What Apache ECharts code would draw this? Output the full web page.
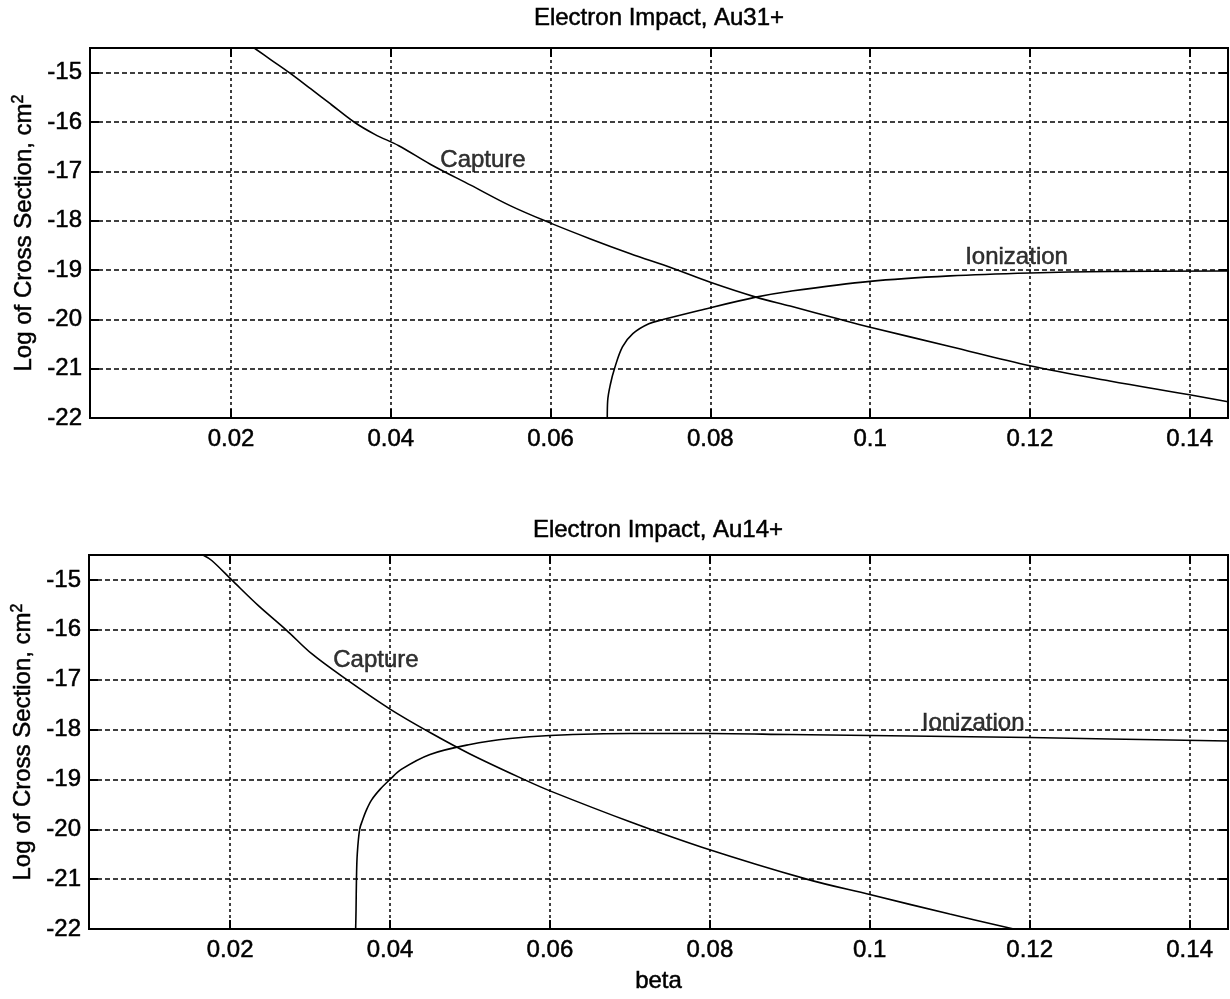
<!DOCTYPE html>
<html>
<head>
<meta charset="utf-8">
<script src="https://cdn.jsdelivr.net/npm/echarts@6/dist/echarts.min.js"></script>
<style>
  html, body { margin: 0; padding: 0; background: #fff; }
  #chart { width: 1230px; height: 999px; }
</style>
</head>
<body>
<div id="chart"></div>
<script>
// beta tick values, shared by both panels
var betaTicks = [0.02, 0.04, 0.06, 0.08, 0.1, 0.12, 0.14];

// Au31+ : [beta, log10 cross section]
var captureAu31 = [
    [0.0229, -14.5], [0.025, -14.74], [0.0273, -15.0], [0.03, -15.33], [0.0325, -15.64],
    [0.0354, -16.0], [0.038, -16.25], [0.041, -16.48], [0.045, -16.86], [0.05, -17.28],
    [0.055, -17.7], [0.06, -18.05], [0.065, -18.37], [0.07, -18.67], [0.0752, -18.96],
    [0.08, -19.25], [0.0857, -19.55], [0.09, -19.73], [0.0962, -20.0], [0.1, -20.16],
    [0.11, -20.55], [0.12, -20.94], [0.13, -21.25], [0.14, -21.53], [0.1448, -21.67]
];
var ionizationAu31 = [
    [0.0671, -22.0], [0.06715, -21.65], [0.0675, -21.31], [0.068, -21.0], [0.069, -20.56],
    [0.0703, -20.29], [0.0723, -20.09], [0.0742, -20.0], [0.0786, -19.82], [0.0857, -19.55],
    [0.09, -19.43], [0.1, -19.23], [0.11, -19.12], [0.12, -19.06], [0.13, -19.03],
    [0.1448, -19.02]
];

// Au14+
var captureAu14 = [
    [0.0166, -14.5], [0.0177, -14.61], [0.0202, -15.0], [0.0235, -15.51], [0.027, -16.0],
    [0.0302, -16.48], [0.0345, -16.99], [0.04, -17.59], [0.045, -18.06], [0.05, -18.49],
    [0.057, -19.02], [0.06, -19.23], [0.07, -19.85], [0.079, -20.36], [0.0921, -21.0],
    [0.1, -21.31], [0.11, -21.7], [0.118, -22.0]
];
var ionizationAu14 = [
    [0.0357, -22.0], [0.03575, -21.6], [0.0358, -21.0], [0.0359, -20.5], [0.0362, -20.0],
    [0.0366, -19.8], [0.037, -19.63], [0.0377, -19.41], [0.0388, -19.19], [0.04, -19.0],
    [0.0414, -18.8], [0.045, -18.5], [0.05, -18.3], [0.055, -18.18], [0.06, -18.12],
    [0.07, -18.08], [0.08, -18.08], [0.09, -18.1], [0.1, -18.12], [0.11, -18.14],
    [0.12, -18.16], [0.13, -18.19], [0.1448, -18.23]
];

// curve labels: [text, beta, log]
var labelsAu31 = [['Capture', 0.0462, -17.02], ['Ionization', 0.1119, -18.98]];
var labelsAu14 = [['Capture', 0.0329, -16.85], ['Ionization', 0.1065, -18.12]];

var titles = ['Electron Impact, Au31+', 'Electron Impact, Au14+'];

var FONT = '"Liberation Sans", Arial, sans-serif';
var BETA_MIN = 0.00235, BETA_MAX = 0.1448;
var LOG_MIN = -22, LOG_MAX = -14.5;

// heavier text, close to the scanned look
var ink = { color: '#000', textBorderColor: '#000', textBorderWidth: 0.5 };

var chart = echarts.init(document.getElementById('chart'));

var grids = [
    { left: 90, top: 48, width: 1138, height: 370 },
    { left: 89, top: 555, width: 1139, height: 374 }
];

function xAxes(gi, withName) {
    return [{
        type: 'value', gridIndex: gi, min: BETA_MIN, max: BETA_MAX,
        name: withName ? 'beta' : '', nameLocation: 'middle', nameGap: 40,
        nameTextStyle: Object.assign({ fontFamily: FONT, fontSize: 24 }, ink),
        axisLine: { show: false },
        axisTick: { inside: true, length: 9, customValues: betaTicks, lineStyle: { color: '#000', width: 2 } },
        axisLabel: Object.assign({ customValues: betaTicks, margin: 9, fontFamily: FONT, fontSize: 24 }, ink),
        splitLine: { show: true, lineStyle: { color: '#000', width: 1.5, type: [3, 3] } }
    }, {
        type: 'value', gridIndex: gi, position: 'top', min: BETA_MIN, max: BETA_MAX,
        axisLine: { show: false },
        axisTick: { inside: true, length: 9, customValues: betaTicks, lineStyle: { color: '#000', width: 2 } },
        axisLabel: { show: false },
        splitLine: { show: false }
    }];
}

function yAxes(gi) {
    return [{
        type: 'value', gridIndex: gi, min: LOG_MIN, max: LOG_MAX, interval: 1,
        name: 'Log of Cross Section, cm{sup|2}', nameLocation: 'middle', nameGap: 50,
        nameTextStyle: Object.assign({
            fontFamily: FONT, fontSize: 24,
            rich: { sup: Object.assign({ fontFamily: FONT, fontSize: 16, verticalAlign: 'top', padding: [0, 0, 10, 0] }, ink) }
        }, ink),
        axisLine: { show: false },
        axisTick: { inside: true, length: 9, lineStyle: { color: '#000', width: 2 } },
        axisLabel: Object.assign({ margin: 8, showMaxLabel: false, fontFamily: FONT, fontSize: 24 }, ink),
        splitLine: { show: true, lineStyle: { color: '#000', width: 1.5, type: [5, 3] } }
    }, {
        type: 'value', gridIndex: gi, position: 'right', min: LOG_MIN, max: LOG_MAX, interval: 1,
        axisLine: { show: false },
        axisTick: { inside: true, length: 9, lineStyle: { color: '#000', width: 2 } },
        axisLabel: { show: false },
        splitLine: { show: false }
    }];
}

function curve(data, axisIdx) {
    return {
        type: 'line', data: data, xAxisIndex: axisIdx, yAxisIndex: axisIdx,
        showSymbol: false, smooth: 0.35, silent: true,
        lineStyle: { color: '#000', width: 1.6 }
    };
}

function labelSeries(list, axisIdx) {
    return {
        type: 'scatter', xAxisIndex: axisIdx, yAxisIndex: axisIdx, symbolSize: 0, silent: true,
        data: list.map(function (l) { return { value: [l[1], l[2]], name: l[0] }; }),
        label: Object.assign({
            show: true, formatter: '{b}', position: [0, 0], align: 'left', verticalAlign: 'bottom',
            fontFamily: FONT, fontSize: 24
        }, ink)
    };
}

function titleText(text, x, y) {
    return {
        type: 'text', x: x, y: y,
        style: {
            text: text, font: '24px ' + FONT, fill: '#000', stroke: '#000', lineWidth: 0.5,
            align: 'center', verticalAlign: 'middle', textAlign: 'center', textVerticalAlign: 'middle'
        }
    };
}

chart.setOption({
    backgroundColor: '#fff',
    animation: false,
    grid: grids.map(function (g) {
        return Object.assign({ show: true, borderColor: '#000', borderWidth: 2, backgroundColor: 'transparent' }, g);
    }),
    xAxis: xAxes(0, false).concat(xAxes(1, true)),
    yAxis: yAxes(0).concat(yAxes(1)),
    series: [
        curve(captureAu31, 0),
        curve(ionizationAu31, 0),
        labelSeries(labelsAu31, 0),
        curve(captureAu14, 2),
        curve(ionizationAu14, 2),
        labelSeries(labelsAu14, 2)
    ],
    graphic: [titleText(titles[0], 659, 18), titleText(titles[1], 658, 530)]
});
</script>
</body>
</html>
